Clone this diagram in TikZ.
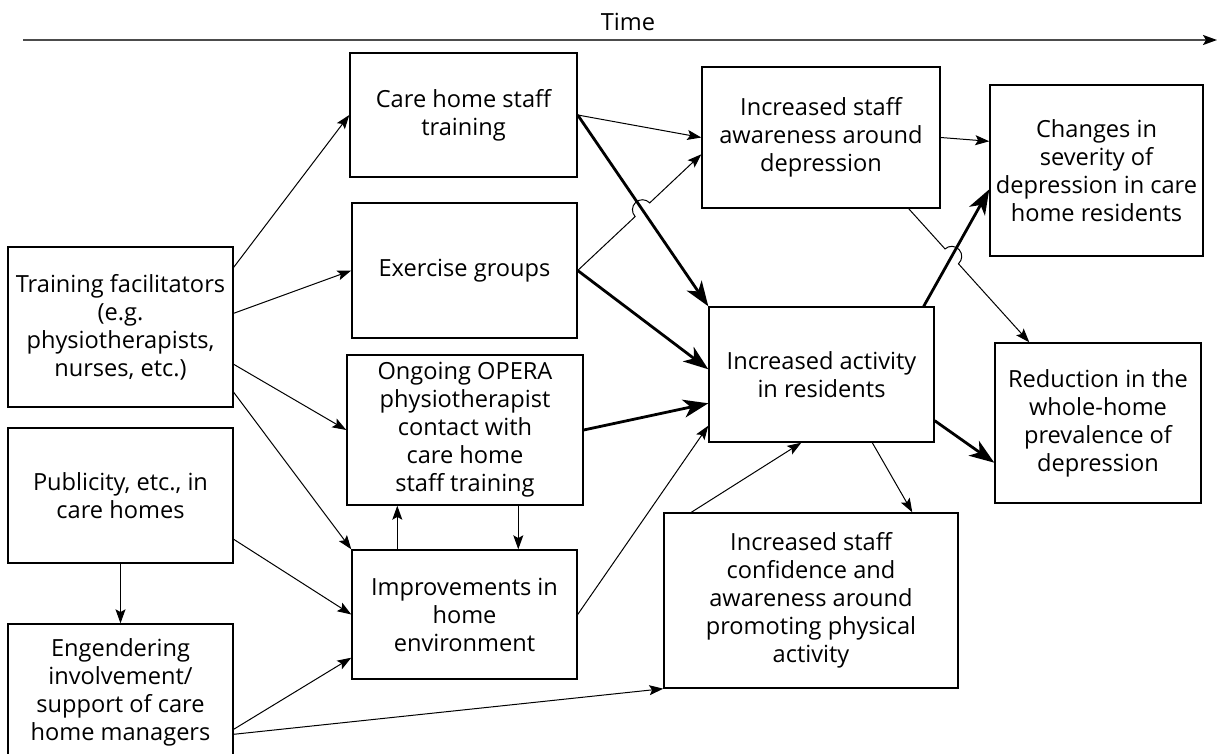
\documentclass[tikz,border=0pt]{standalone}
\usepackage{fontspec}
\setmainfont{Open Sans}
\usetikzlibrary{arrows.meta, calc}
\tikzset{
  box/.style={draw, line width=0.7pt, align=center, inner sep=0pt, font=\fontsize{11.8}{14}\selectfont},
  flow/.style={line width=0.5pt, -{Stealth[length=7pt, width=5pt, inset=1.4pt]}},
  main/.style={line width=1.4pt, -{Stealth[length=12.5pt, width=9pt, inset=3.5pt]}},
}

\begin{document}
\begin{tikzpicture}[x=0.5pt, y=-0.5pt]
\useasboundingbox (0,0) rectangle (1217,754);

\node[box, minimum width=112.5pt, minimum height=80pt] (tf) at (120.5,327) {Training facilitators\\(e.g.\\physiotherapists,\\nurses, etc.)};
\node[box, minimum width=112.5pt, minimum height=67.5pt] (pub) at (120.5,495.5) {Publicity, etc., in\\care homes};
\node[box, minimum width=112.5pt, minimum height=68.5pt] (eng) at (120.5,692.5) {Engendering\\involvement/\\support of care\\home managers};
\node[box, minimum width=113.5pt, minimum height=62pt] (staff) at (463.5,115) {Care home staff\\training};
\node[box, minimum width=112.5pt, minimum height=67.5pt] (exer) at (464.5,270.5) {Exercise groups};
\node[box, minimum width=118pt, minimum height=75pt] (opera) at (465,430) {Ongoing OPERA\\physiotherapist\\contact with\\care home\\staff training};
\node[box, minimum width=112.5pt, minimum height=64.5pt] (env) at (464.5,614.5) {Improvements in\\home\\environment};
\node[box, minimum width=119pt, minimum height=70.5pt] (aware) at (821,137.5) {Increased staff\\awareness around\\depression};
\node[box, minimum width=112.5pt, minimum height=67.5pt] (act) at (821.5,374.5) {Increased activity\\in residents};
\node[box, minimum width=147pt, minimum height=87.5pt] (conf) at (811,600.5) {Increased staff\\confidence and\\awareness around\\promoting physical\\activity};
\node[box, minimum width=106.5pt, minimum height=85.5pt] (sev) at (1096.5,170.5) {Changes in\\severity of\\depression in care\\home residents};
\node[box, minimum width=103pt, minimum height=80pt] (prev) at (1098,423) {Reduction in the\\whole-home\\prevalence of\\depression};

\coordinate (t0) at (23,40);
\coordinate (t1) at (1217,40);
\draw[line width=1pt, black!70, -{Stealth[length=7pt, width=5pt, inset=1.5pt, color=black]}] (t0) -- (t1);
\node[font=\fontsize{11.8}{14}\selectfont] (time) at (628,22) {Time};

\coordinate (a0) at (act.north west);
\coordinate (a1) at ($(aware.north west)+(0,88)$);
\coordinate (b0) at ($(aware.south east)+(-32,0)$);
\coordinate (b1) at ($(prev.north west)+(35,0)$);
\coordinate (c0) at ($(act.north east)+(-11,0)$);
\coordinate (c1) at ($(sev.north west)+(0,105)$);
\coordinate (x1) at (intersection of staff.east--a0 and exer.east--a1);
\coordinate (x2) at (intersection of b0--b1 and c0--c1);

\draw[flow] ($(tf.north east)+(0,21)$) -- (staff.west);
\draw[flow] ($(tf.north east)+(0,67)$) -- (exer.west);
\draw[flow] ($(tf.north east)+(0,118)$) -- (opera.west);
\draw[flow] ($(tf.north east)+(0,146)$) -- (env.north west);
\draw[flow] ($(pub.north east)+(0,112)$) -- (env.west);
\draw[flow] (pub.south) -- (eng.north);
\draw[flow] ($(eng.north east)+(0,106)$) -- ($(env.south west)+(0,-22)$);
\draw[flow] ($(eng.north east)+(0,111)$) -- (conf.south west);
\draw[flow] ($(env.north west)+(46,0)$) -- ($(opera.south west)+(51,0)$);
\draw[flow] ($(opera.south west)+(172,0)$) -- ($(env.north west)+(167,0)$);
\draw[flow] (staff.east) -- (aware.west);
\draw[main] (staff.east) -- (a0);
\draw[main] (exer.east) -- ($(act.north west)+(0,63)$);
\draw[main] (opera.east) -- ($(act.north west)+(0,97)$);
\draw[flow] (env.east) -- ($(act.south west)+(0,-17)$);
\draw[flow] ($(conf.north west)+(28,0)$) -- ($(act.south west)+(93,0)$);
\draw[flow] ($(act.south west)+(164,0)$) -- ($(conf.north west)+(249,0)$);
\draw[main] (c0) -- (c1);
\draw[main] ($(act.south east)+(0,-22)$) -- ($(prev.south west)+(0,-41)$);
\draw[flow] (aware.east) -- ($(sev.north west)+(0,57)$);
\draw[flow] (exer.east) -- ($(x1)!5pt!(exer.east)$) let \p1 = ($(a1)-(exer.east)$) in
  arc[start angle={atan2(\y1,\x1)+180}, delta angle=-180, radius=5pt] -- (a1);
\draw[flow] (b0) -- ($(x2)!5pt!(b0)$) let \p1 = ($(b1)-(b0)$) in
  arc[start angle={atan2(\y1,\x1)+180}, delta angle=-180, radius=5pt] -- (b1);
\end{tikzpicture}
\end{document}
